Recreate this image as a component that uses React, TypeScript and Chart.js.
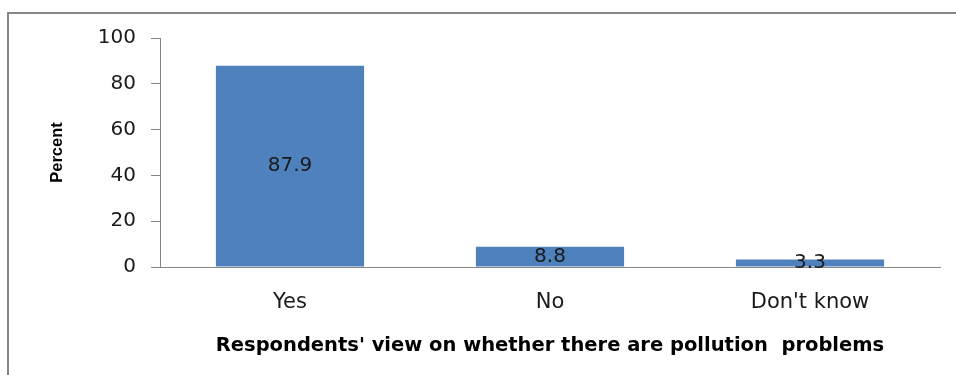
import React, { useEffect, useRef } from "react";
import { Chart, registerables } from "chart.js";

Chart.register(...registerables);

const categories = ["Yes", "No", "Don't know"];
const values = [87.9, 8.8, 3.3];
const yTicks = [0, 20, 40, 60, 80, 100];
const xTitle = "Respondents' view on whether there are pollution  problems";
const yTitle = "Percent";

const AXIS = "#868686";
const BAR = "#4f81bd";

const valueLabels = {
  id: "valueLabels",
  afterDatasetsDraw(chart: any) {
    const ctx = chart.ctx;
    const meta = chart.getDatasetMeta(0);
    ctx.save();
    ctx.font = "20px 'DejaVu Sans'";
    ctx.fillStyle = "#1a1a1a";
    ctx.textAlign = "center";
    ctx.textBaseline = "middle";
    meta.data.forEach((el: any, i: number) => {
      const y = (el.y + el.base) / 2;
      ctx.fillText(String(values[i]), el.x, y);
    });
    ctx.restore();
  },
};

export default function App() {
  const ref = useRef<HTMLCanvasElement>(null);
  useEffect(() => {
    const chart = new Chart(ref.current as HTMLCanvasElement, {
      type: "bar",
      data: {
        labels: categories,
        datasets: [
          {
            data: values,
            backgroundColor: BAR,
            categoryPercentage: 1,
            barPercentage: 0.57,
          },
        ],
      },
      options: {
        animation: false,
        responsive: false,
        layout: { padding: { left: 0, right: 16, top: 24, bottom: 0 } },
        plugins: { legend: { display: false }, tooltip: { enabled: false } },
        scales: {
          x: {
            grid: { display: false, drawTicks: false, tickLength: 0 },
            border: { display: true, color: AXIS, width: 1 },
            ticks: {
              color: "#1a1a1a",
              padding: 23,
              font: { family: "'DejaVu Sans'", size: 21 },
            },
            title: {
              display: true,
              text: xTitle,
              color: "#000",
              font: { family: "'DejaVu Sans'", size: 19.5, weight: "bold" },
              padding: { top: 0, bottom: 17 },
            },
            afterFit(scale: any) {
              scale.height = 108;
              scale.paddingLeft = 0;
              scale.paddingRight = 0;
            },
          },
          y: {
            min: 0,
            max: 100,
            afterBuildTicks(scale: any) {
              scale.ticks = yTicks.map((v) => ({ value: v }));
            },
            grid: {
              display: true,
              drawOnChartArea: false,
              drawTicks: true,
              tickLength: 9,
              color: AXIS,
            },
            border: { display: true, color: AXIS, width: 1 },
            ticks: {
              color: "#1a1a1a",
              padding: 15,
              font: { family: "'DejaVu Sans'", size: 20 },
            },
            title: {
              display: true,
              text: yTitle,
              color: "#000",
              font: { family: "'Liberation Sans', Arial, sans-serif", size: 16.5, weight: "bold" },
              padding: { top: 39, bottom: 0 },
            },
            afterFit(scale: any) {
              scale.width = 151;
              scale.paddingTop = 0;
              scale.paddingBottom = 0;
            },
          },
        },
      } as any,
      plugins: [valueLabels],
    });
    return () => chart.destroy();
  }, []);

  return (
    <div
      style={{
        position: "fixed",
        left: 7,
        top: 12,
        width: 949,
        height: 363,
        borderTop: "2px solid #878787",
        borderLeft: "2px solid #878787",
        boxSizing: "border-box",
        background: "#fff",
      }}
    >
      <canvas ref={ref} width={947} height={361} style={{ display: "block" }} />
    </div>
  );
}
